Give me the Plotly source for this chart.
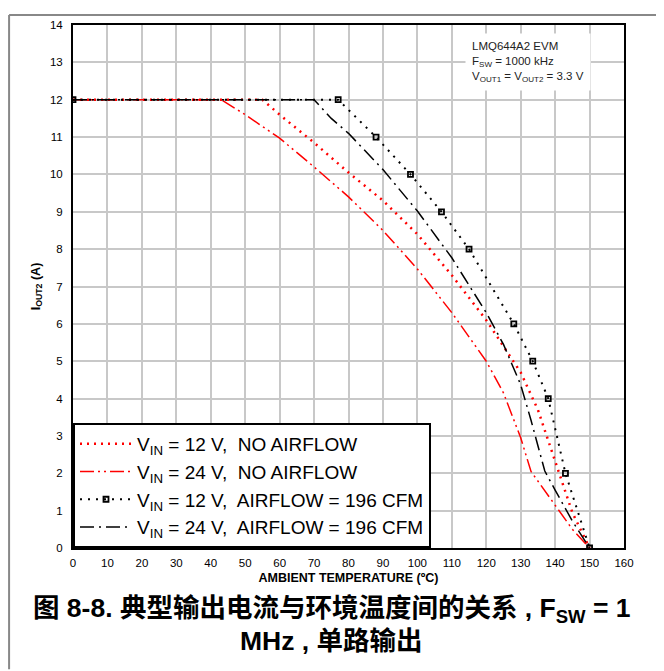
import plotly.graph_objects as go

# ---- data ----
temp_12v_noair = [0, 55, 60, 70, 80, 90, 100, 110, 120, 130, 135, 140, 145, 150]
iout_12v_noair = [12, 12, 11.6, 10.85, 10.05, 9.3, 8.4, 7.3, 6.1, 4.7, 3.7, 2.3, 0.95, 0]

temp_24v_noair = [0, 43, 50, 60, 70, 80, 90, 100, 110, 120, 125, 130, 133, 140, 145, 150]
iout_24v_noair = [12, 12, 11.6, 10.97, 10.2, 9.4, 8.5, 7.47, 6.3, 5.0, 4.15, 2.95, 2.05, 1.15, 0.5, 0]

temp_12v_air = [0, 77, 88, 98, 107, 115, 128, 133.5, 138, 143, 150]
iout_12v_air = [12, 12, 11, 10, 9, 8, 6, 5, 4, 2, 0]

temp_24v_air = [0, 70, 75, 80, 90, 100, 110, 120, 125, 130, 133, 137, 140, 145, 150]
iout_24v_air = [12, 12, 11.5, 11.1, 10.13, 9.02, 7.77, 6.3, 5.45, 4.37, 3.42, 2.06, 1.55, 0.72, 0]

series_names = [
    "V<sub>IN</sub> = 12 V,  NO AIRFLOW",
    "V<sub>IN</sub> = 24 V,  NO AIRFLOW",
    "V<sub>IN</sub> = 12 V,  AIRFLOW = 196 CFM",
    "V<sub>IN</sub> = 24 V,  AIRFLOW = 196 CFM",
]

x_ticks = list(range(0, 161, 10))
y_ticks = list(range(0, 15, 1))

FONT = "Liberation Sans, Arial, sans-serif"
CJK = "Liberation Sans, Noto Sans CJK SC, sans-serif"

fig = go.Figure()

fig.add_trace(go.Scatter(
    x=temp_12v_noair, y=iout_12v_noair, mode="lines", name=series_names[0],
    line=dict(color="#ff0000", width=2.5, dash="2px,5px"),
))
fig.add_trace(go.Scatter(
    x=temp_24v_noair, y=iout_24v_noair, mode="lines", name=series_names[1],
    line=dict(color="#ff0000", width=1.5, dash="14px,4px,2px,4px,2px,4px"),
))
fig.add_trace(go.Scatter(
    x=temp_12v_air, y=iout_12v_air, mode="lines+markers", name=series_names[2],
    line=dict(color="#000000", width=2, dash="2px,6px"),
    marker=dict(symbol="square-open", size=5, color="#000000", line=dict(width=1.8, color="#000000")),
))
fig.add_trace(go.Scatter(
    x=temp_24v_air, y=iout_24v_air, mode="lines", name=series_names[3],
    line=dict(color="#000000", width=1.5, dash="14px,5px,2px,5px"),
))

fig.update_layout(
    width=656, height=663,
    margin=dict(l=65, r=40, t=11, b=123),
    paper_bgcolor="white", plot_bgcolor="white",
    font=dict(family=FONT, size=11.5, color="#000000"),
    showlegend=True,
    legend=dict(
        x=0, y=0, xanchor="left", yanchor="bottom",
        bgcolor="white", bordercolor="#000000", borderwidth=2,
        font=dict(family=FONT, size=19, color="#000000"),
        tracegroupgap=0, itemwidth=52,
    ),
    xaxis=dict(
        range=[0, 160], tickvals=x_ticks, ticktext=[str(v) for v in x_ticks],
        showgrid=True, gridcolor="#c8c8c8", gridwidth=1.5,
        showline=True, linecolor="#000000", linewidth=2, mirror=True,
        zeroline=False, ticks="", ticklabelstandoff=3,
        title=dict(text="<b>AMBIENT TEMPERATURE (ºC)</b>", font=dict(family=FONT, size=12.5), standoff=5),
    ),
    yaxis=dict(
        range=[0, 14], tickvals=y_ticks, ticktext=[str(v) for v in y_ticks],
        showgrid=True, gridcolor="#c8c8c8", gridwidth=1.5,
        showline=True, linecolor="#000000", linewidth=2, mirror=True,
        zeroline=False, ticks="", ticklabelstandoff=6,
        title=dict(text="<b>I<sub>OUT2</sub> (A)</b>", font=dict(family=FONT, size=12.5), standoff=7),
    ),
)

# conditions box (upper right)
fig.add_annotation(
    xref="paper", yref="paper", x=0.711, y=0.985, xanchor="left", yanchor="top",
    text="LMQ644A2 EVM<br>F<sub>SW</sub> = 1000 kHz<br>V<sub>OUT1</sub> = V<sub>OUT2</sub> = 3.3 V",
    align="left", showarrow=False, bgcolor="white", borderpad=6,
    font=dict(family=FONT, size=11.5, color="#222222"),
)

# caption
fig.add_annotation(
    xref="paper", yref="paper", x=0.470, y=-0.118, xanchor="center", yanchor="middle",
    text="<b>图 8-8. 典型输出电流与环境温度间的关系 , F<sub>SW</sub> = 1</b>",
    showarrow=False, font=dict(family=CJK, size=26.5, color="#000000"),
)
fig.add_annotation(
    xref="paper", yref="paper", x=0.470, y=-0.177, xanchor="center", yanchor="middle",
    text="<b>MHz , 单路输出</b>",
    showarrow=False, font=dict(family=CJK, size=26.5, color="#000000"),
)

# thin gray outer frame (top and left edges)
fig.add_shape(type="line", xref="paper", yref="paper", x0=-0.116, x1=1.07, y0=1.019, y1=1.019,
              line=dict(color="#888888", width=2))
fig.add_shape(type="line", xref="paper", yref="paper", x0=-0.116, x1=-0.116, y0=1.019, y1=-0.232,
              line=dict(color="#888888", width=2))

fig.write_html("out.html")
